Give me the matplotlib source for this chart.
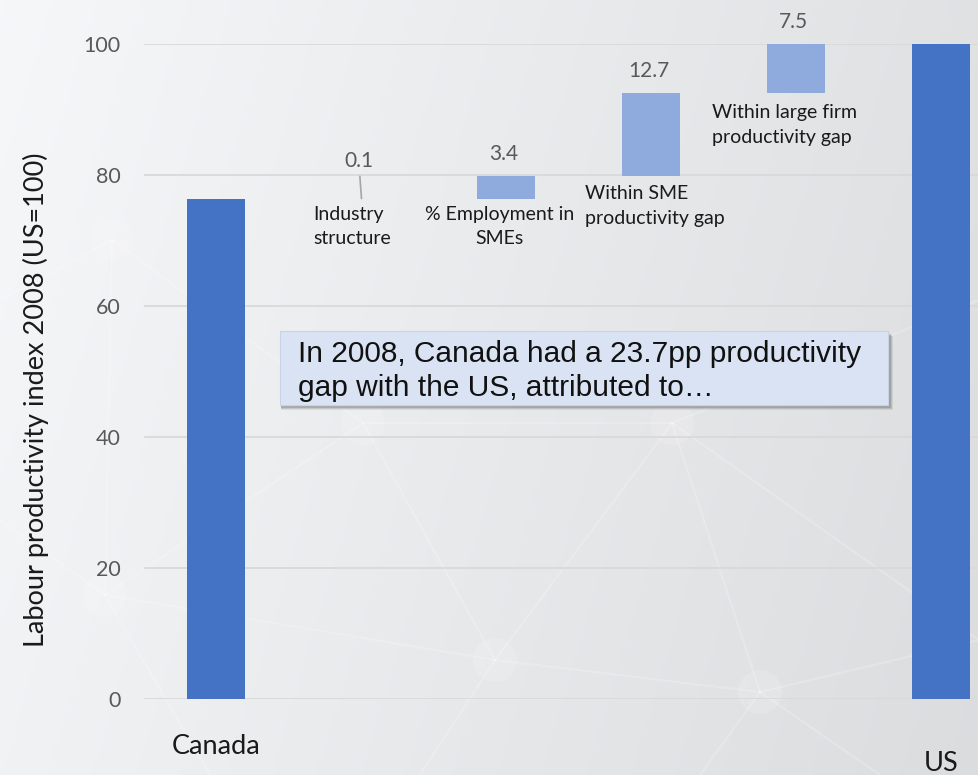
import numpy as np
import matplotlib.pyplot as plt
from matplotlib.patches import Rectangle, Circle

# waterfall: Canada level, contributions to the gap, US level
categories = ["Canada", "Industry structure", "% Employment in SMEs",
              "Within SME productivity gap", "Within large firm productivity gap", "US"]
canada = 76.3
steps = [0.1, 3.4, 12.7, 7.5]
us = 100
step_labels = ["Industry\nstructure", "% Employment in\nSMEs",
               "Within SME\nproductivity gap", "Within large firm\nproductivity gap"]
yticks = [0, 20, 40, 60, 80, 100]

W, H = 979, 775
fig = plt.figure(figsize=(W / 100, H / 100), dpi=100)

# soft grey slide background
bg = fig.add_axes([0, 0, 1, 1], zorder=-10)
gx, gy = np.meshgrid(np.linspace(0, 1, 200), np.linspace(0, 1, 160))
shade = 0.965 - 0.085 * gx - 0.02 * gy
img = np.dstack([shade, shade + 0.004, shade + 0.012])
bg.imshow(np.clip(img, 0, 1), extent=[0, W, H, 0], aspect="auto")
nodes = {"a": (112, 240), "b": (105, 595), "c": (363, 423), "d": (672, 423),
         "e": (495, 660), "f": (760, 692), "g": (979, 300), "h": (979, 640),
         "i": (420, 775), "j": (700, 775), "k": (0, 520), "l": (210, 775),
         "m": (0, 300), "n": (880, 775)}
edges = ["ac", "ab", "bc", "cd", "ce", "de", "df", "ef", "be", "dg", "fh",
         "ei", "fj", "bk", "bl", "am", "fn", "dh"]
for a, b in edges:
    (x0, y0), (x1, y1) = nodes[a], nodes[b]
    bg.plot([x0, x1], [y0, y1], color="white", lw=1.5, alpha=0.2)
for key in "abcdef":
    bg.add_patch(Circle(nodes[key], 22, color="white", alpha=0.15, lw=0))
bg.set_xlim(0, W)
bg.set_ylim(H, 0)
bg.axis("off")

ax = fig.add_axes([144 / W, 76 / H, 870 / W, 655 / H])
ax.patch.set_alpha(0)

x = np.arange(len(categories))
bottoms = canada + np.concatenate([[0], np.cumsum(steps)[:-1]])
ax.bar([0, 5], [canada, us], width=0.4, color="#4472C4", zorder=3)
ax.bar(x[1:5], steps, bottom=bottoms, width=0.4, color="#8FAADC", zorder=3)

lab_font = dict(family="Lato", color="#595959", fontsize=15)
for i, (b, s) in enumerate(zip(bottoms, steps), start=1):
    if s < 1:
        # tiny step: label lifted with a leader line
        ax.annotate(f"{s:.1f}", xy=(i, b + s), xytext=(-2, 20), textcoords="offset points",
                    ha="center", va="bottom", annotation_clip=False,
                    arrowprops=dict(arrowstyle="-", color="#A6A6A6", lw=1.2,
                                    shrinkA=2, shrinkB=0), **lab_font)
    else:
        ax.annotate(f"{s:.1f}", xy=(i, b + s), xytext=(-2, 16), textcoords="offset points",
                    ha="center", va="center", annotation_clip=False, **lab_font)

cat_font = dict(family="Lato", color="#1a1a1a", fontsize=14, linespacing=1.55,
                va="top", clip_on=False)
ax.text(0.67, 75.3, step_labels[0], ha="left", **cat_font)
ax.text(1.95, 75.3, step_labels[1], ha="center", multialignment="center", **cat_font)
ax.text(2.54, 78.4, step_labels[2], ha="left", **cat_font)
ax.text(3.42, 90.8, step_labels[3], ha="left", **cat_font)

ax.text(0, -7.2, categories[0], ha="center", va="center", family="Lato",
        fontsize=19.5, color="#1a1a1a", clip_on=False)
ax.text(5, -9.8, categories[5], ha="center", va="center", family="Lato",
        fontsize=19.5, color="#1a1a1a", clip_on=False)

ax.set_xlim(-0.5, 5.5)
ax.set_ylim(0, 100)
ax.set_xticks([])
ax.set_yticks(yticks)
ax.tick_params(axis="y", length=0, pad=17, labelsize=15.5, labelcolor="#595959")
for t in ax.get_yticklabels():
    t.set_family("Lato")
ax.yaxis.grid(True, color="#D9D9D9", lw=1.3)
ax.set_axisbelow(True)
for sp in ax.spines.values():
    sp.set_visible(False)

fig.text(36 / W, 1 - 400 / H, "Labour productivity index 2008 (US=100)", rotation=90,
         ha="center", va="center", family="Lato", fontsize=19.5, color="#1a1a1a")

# callout box with drop shadow
bx0, by0, bx1, by1 = 280, 331, 888, 405
for k, al in enumerate([0.10, 0.14, 0.2]):
    off = 5 - k
    fig.patches.append(Rectangle(((bx0 + 1) / W, 1 - (by1 + off) / H), (bx1 - bx0 + off - 1) / W,
                                 (by1 - by0) / H, transform=fig.transFigure,
                                 color="#404040", alpha=al, lw=0))
fig.patches.append(Rectangle((bx0 / W, 1 - by1 / H), (bx1 - bx0) / W, (by1 - by0) / H,
                             transform=fig.transFigure, facecolor="#DAE3F3",
                             edgecolor="#C9D3E6", lw=0.8))
fig.text(298 / W, 1 - 362 / H, "In 2008, Canada had a 23.7pp productivity",
         family="Liberation Sans", fontsize=21.5, color="#111111", va="baseline")
fig.text(298 / W, 1 - 396 / H, "gap with the US, attributed to\u2026",
         family="Liberation Sans", fontsize=21.5, color="#111111", va="baseline")

fig.savefig("out.png", dpi=100)
